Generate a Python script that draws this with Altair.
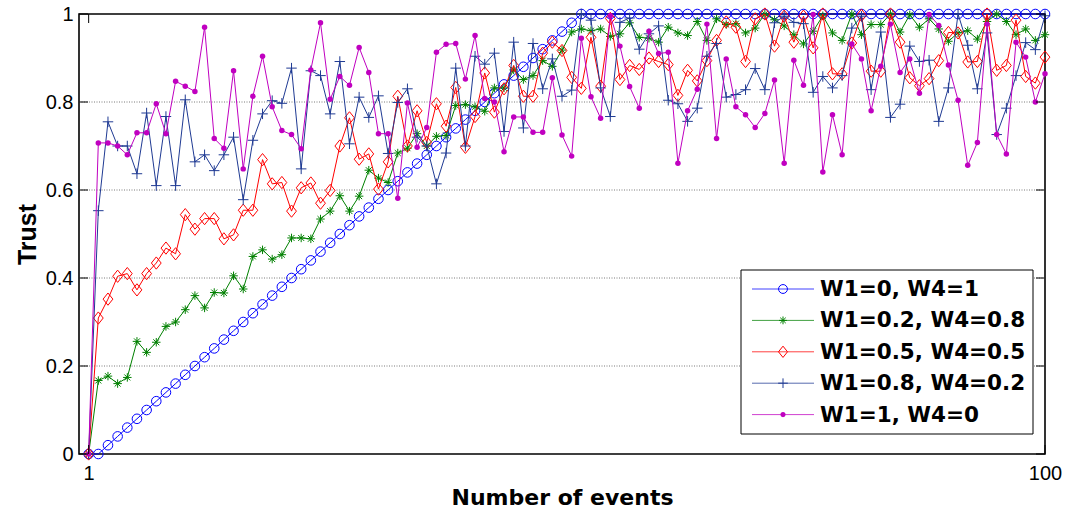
import altair as alt
import pandas as pd

events = list(range(1, 101))

series_names = [
    "W1=0, W4=1",
    "W1=0.2, W4=0.8",
    "W1=0.5, W4=0.5",
    "W1=0.8, W4=0.2",
    "W1=1, W4=0",
]
colors = ["#0000ff", "#008000", "#ff0000", "#1f3a93", "#c000c0"]

trust_w1_0 = [
    0, 0, 0.02, 0.04, 0.06, 0.08, 0.10, 0.12, 0.14, 0.16,
    0.18, 0.20, 0.22, 0.24, 0.26, 0.28, 0.30, 0.32, 0.34, 0.36,
    0.38, 0.40, 0.42, 0.44, 0.46, 0.48, 0.50, 0.52, 0.54, 0.56,
    0.58, 0.60, 0.62, 0.64, 0.66, 0.68, 0.70, 0.72, 0.74, 0.76,
    0.78, 0.80, 0.82, 0.84, 0.86, 0.88, 0.90, 0.92, 0.94, 0.96,
    0.98, 1.0, 1.0, 1.0, 1.0, 1.0, 1.0, 1.0, 1.0, 1.0,
    1.0, 1.0, 1.0, 1.0, 1.0, 1.0, 1.0, 1.0, 1.0, 1.0,
    1.0, 1.0, 1.0, 1.0, 1.0, 1.0, 1.0, 1.0, 1.0, 1.0,
    1.0, 1.0, 1.0, 1.0, 1.0, 1.0, 1.0, 1.0, 1.0, 1.0,
    1.0, 1.0, 1.0, 1.0, 1.0, 1.0, 1.0, 1.0, 1.0, 1.0,
]

trust_w1_02 = [
    0, 0.167, 0.177, 0.16, 0.174, 0.256, 0.231, 0.254, 0.29, 0.30,
    0.328, 0.36, 0.332, 0.367, 0.366, 0.405, 0.375, 0.449, 0.464, 0.443,
    0.453, 0.491, 0.491, 0.489, 0.534, 0.552, 0.587, 0.552, 0.586, 0.645,
    0.627, 0.617, 0.684, 0.695, 0.728, 0.70, 0.722, 0.724, 0.792, 0.794,
    0.789, 0.779, 0.832, 0.832, 0.873, 0.851, 0.86, 0.894, 0.881, 0.918,
    0.959, 0.966, 0.962, 0.966, 0.949, 0.955, 0.98, 0.947, 0.945, 0.936,
    0.97, 0.957, 0.951, 0.983, 0.94, 0.989, 0.976, 0.978, 0.957, 0.968,
    1.0, 0.987, 0.973, 0.953, 0.932, 0.961, 0.996, 0.957, 0.94, 1.0,
    0.953, 0.976, 0.976, 1.0, 0.959, 0.998, 0.97, 0.989, 0.966, 0.938,
    0.957, 0.962, 0.943, 0.983, 1.0, 0.983, 0.953, 0.966, 0.94, 0.953,
]

trust_w1_05 = [
    0, 0.309, 0.352, 0.404, 0.41, 0.373, 0.41, 0.434, 0.468, 0.455,
    0.544, 0.511, 0.535, 0.535, 0.489, 0.498, 0.554, 0.554, 0.669, 0.614,
    0.617, 0.552, 0.605, 0.616, 0.57, 0.599, 0.70, 0.764, 0.67, 0.682,
    0.602, 0.664, 0.813, 0.70, 0.78, 0.708, 0.796, 0.745, 0.833, 0.697,
    0.767, 0.866, 0.777, 0.83, 0.883, 0.813, 0.813, 0.911, 0.936, 0.917,
    0.856, 0.831, 0.947, 0.836, 0.99, 0.851, 0.883, 0.874, 0.90, 0.892,
    0.885, 0.815, 0.872, 0.848, 0.894, 0.94, 0.982, 0.97, 0.892, 0.989,
    1.0, 0.927, 0.995, 0.936, 0.995, 0.923, 1.0, 0.864, 0.864, 0.934,
    0.997, 0.87, 0.87, 1.0, 0.936, 0.855, 0.837, 0.853, 0.894, 0.958,
    0.957, 0.891, 0.892, 1.0, 0.872, 0.883, 0.986, 0.858, 0.843, 0.902,
]

trust_w1_08 = [
    0, 0.553, 0.755, 0.70, 0.70, 0.637, 0.775, 0.61, 0.767, 0.61,
    0.805, 0.664, 0.68, 0.644, 0.68, 0.72, 0.578, 0.713, 0.773, 0.803,
    0.797, 0.877, 0.648, 0.871, 0.86, 0.773, 0.892, 0.705, 0.811, 0.765,
    0.814, 0.683, 0.799, 0.83, 0.72, 0.70, 0.614, 0.684, 0.877, 0.70,
    0.904, 0.886, 0.911, 0.733, 0.936, 0.741, 0.933, 0.83, 0.898, 0.813,
    0.827, 1.0, 0.986, 0.832, 0.767, 0.981, 0.991, 0.92, 0.955, 0.973,
    0.804, 0.796, 0.756, 0.786, 0.904, 0.933, 0.811, 0.817, 0.828, 0.876,
    0.828, 0.98, 0.995, 0.981, 0.978, 0.822, 0.858, 0.832, 0.86, 0.968,
    0.995, 0.828, 0.959, 0.765, 0.795, 0.927, 0.892, 0.895, 0.756, 0.832,
    1.0, 0.929, 0.83, 0.957, 0.726, 0.786, 0.86, 0.935, 0.919, 0.996,
]

trust_w1_1 = [
    0, 0.707, 0.707, 0.70, 0.68, 0.73, 0.73, 0.796, 0.728, 0.847,
    0.836, 0.824, 0.97, 0.717, 0.695, 0.871, 0.648, 0.813, 0.904, 0.789,
    0.735, 0.726, 0.694, 0.873, 0.98, 0.806, 0.858, 0.838, 0.924, 0.867,
    0.728, 0.728, 0.581, 0.798, 0.697, 0.742, 0.913, 0.931, 0.933, 0.852,
    0.951, 0.808, 0.80, 0.687, 0.766, 0.766, 0.731, 0.731, 0.855, 0.725,
    0.677, 0.945, 0.812, 0.763, 0.996, 0.927, 0.835, 0.786, 0.961, 0.91,
    0.913, 0.661, 0.78, 0.829, 0.977, 0.717, 0.898, 0.789, 0.771, 0.742,
    0.774, 0.85, 0.661, 0.895, 0.838, 0.999, 0.641, 0.771, 0.68, 0.932,
    0.898, 0.78, 0.881, 0.977, 0.867, 0.898, 0.82, 0.999, 0.974, 0.884,
    0.804, 0.656, 0.708, 0.977, 0.726, 0.682, 0.936, 0.902, 0.80, 0.864,
]

all_series = [trust_w1_0, trust_w1_02, trust_w1_05, trust_w1_08, trust_w1_1]

y_ticks = [0, 0.2, 0.4, 0.6, 0.8, 1]
grid_values = [0.2, 0.4, 0.6, 0.8]
x_ticks = [1, 100]

# marker shapes (MATLAB-like: o, *, diamond, +, .)
ASTERISK = "M-1,0L1,0M0,-1L0,1M-0.7,-0.7L0.7,0.7M-0.7,0.7L0.7,-0.7"
PLUS = "M-1,0L1,0M0,-1L0,1"
DIAMOND = "M0,-1L0.8,0L0,1L-0.8,0Z"
marker_styles = [
    dict(shape="circle", filled=False, size=92),
    dict(shape=ASTERISK, filled=False, size=72),
    dict(shape=DIAMOND, filled=False, size=150),
    dict(shape=PLUS, filled=False, size=110),
    dict(shape="circle", filled=True, size=30),
]

W, H = 966, 440

x_scale = alt.Scale(domain=[0, 100], nice=False, zero=False)
y_scale = alt.Scale(domain=[0, 1], nice=False, zero=False)

x_axis = alt.Axis(
    values=x_ticks, title="Number of events", grid=False, domain=False,
    ticks=False, tickSize=0, labelFlush=False, labelFont="Liberation Sans",
    labelFontSize=20, labelColor="black", labelPadding=9,
    titleFont="DejaVu Sans", titleFontWeight="bold", titleFontSize=22,
    titleColor="black", titlePadding=4,
)
y_axis = alt.Axis(
    values=y_ticks, format="~g", title="Trust", grid=False, domain=False,
    ticks=False, tickSize=0, labelFlush=False, labelFont="Liberation Sans",
    labelFontSize=20, labelColor="black", labelPadding=6,
    titleFont="Liberation Sans", titleFontWeight="bold", titleFontSize=25,
    titleColor="black", titlePadding=5,
)

X = alt.X("n:Q", scale=x_scale, axis=x_axis)
Y = alt.Y("trust:Q", scale=y_scale, axis=y_axis)

layers = []

grid_df = pd.DataFrame({"trust": grid_values})
layers.append(
    alt.Chart(grid_df).mark_rule(color="#7a7a7a", strokeWidth=1, strokeDash=[1, 1.5])
    .encode(y=Y)
)

for name, vals, col, ms in zip(series_names, all_series, colors, marker_styles):
    d = pd.DataFrame({"n": events, "trust": vals, "series": name})
    layers.append(
        alt.Chart(d).mark_line(color=col, strokeWidth=1).encode(x=X, y=Y)
    )
    layers.append(
        alt.Chart(d).mark_point(
            color=col, shape=ms["shape"], filled=ms["filled"], size=ms["size"],
            strokeWidth=1, opacity=1,
        ).encode(x=X, y=Y)
    )

# inward tick marks (MATLAB box style)
yt_df = pd.DataFrame({"trust": y_ticks})
layers.append(alt.Chart(yt_df).mark_rule(color="black", strokeWidth=1)
              .encode(y=Y, x=alt.value(0), x2=alt.value(9)))
layers.append(alt.Chart(yt_df).mark_rule(color="black", strokeWidth=1)
              .encode(y=Y, x=alt.value(W - 9), x2=alt.value(W)))
xt_df = pd.DataFrame({"n": x_ticks})
layers.append(alt.Chart(xt_df).mark_rule(color="black", strokeWidth=1)
              .encode(x=X, y=alt.value(0), y2=alt.value(9)))
layers.append(alt.Chart(xt_df).mark_rule(color="black", strokeWidth=1)
              .encode(x=X, y=alt.value(H - 9), y2=alt.value(H)))

# legend (drawn as a box with line + marker samples)
one = pd.DataFrame({"k": [0]})
LX0, LX1, LY0, LY1 = 662, 954, 256, 420
layers.append(
    alt.Chart(one).mark_rect(fill="white", stroke="black", strokeWidth=1)
    .encode(x=alt.value(LX0), x2=alt.value(LX1), y=alt.value(LY0), y2=alt.value(LY1))
)
for i, (name, col, ms) in enumerate(zip(series_names, colors, marker_styles)):
    ry = 275 + 31.4 * i
    layers.append(
        alt.Chart(one).mark_rule(color=col, strokeWidth=1, opacity=0.75)
        .encode(x=alt.value(673), x2=alt.value(735), y=alt.value(ry))
    )
    layers.append(
        alt.Chart(one).mark_point(
            color=col, shape=ms["shape"], filled=ms["filled"],
            size=ms["size"] * 0.85, strokeWidth=1, opacity=1,
        ).encode(x=alt.value(704), y=alt.value(ry))
    )
    layers.append(
        alt.Chart(one).mark_text(
            align="left", baseline="middle", font="DejaVu Sans",
            fontWeight="bold", fontSize=21.5, color="black",
        ).encode(x=alt.value(741), y=alt.value(ry + 1), text=alt.value(name))
    )

chart = (
    alt.layer(*layers)
    .properties(
        width=W, height=H,
        autosize=alt.AutoSizeParams(type="none"),
        padding={"left": 79, "top": 14, "right": 21, "bottom": 60},
        background="white",
    )
    .configure_view(stroke="black", strokeWidth=1.6)
)

chart.save("out.html", embed_options={"renderer": "svg", "actions": False})
